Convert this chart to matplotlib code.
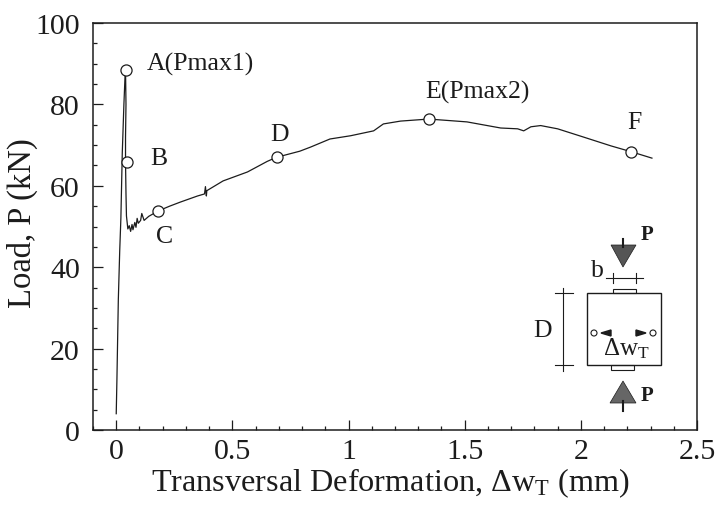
import matplotlib
matplotlib.use('Agg')
import matplotlib.pyplot as plt
from matplotlib.patches import Polygon, Rectangle, Circle
from matplotlib.ticker import MultipleLocator

plt.rcParams['font.family'] = ['Liberation Serif', 'DejaVu Serif']
plt.rcParams['mathtext.fontset'] = 'custom'
plt.rcParams['mathtext.rm'] = 'Liberation Serif'
plt.rcParams['mathtext.default'] = 'rm'

INK = '#1c1c1c'

# load curve
deform = [0.0, 0.003, 0.009, 0.015, 0.02, 0.026, 0.033, 0.038, 0.04, 0.042, 0.04, 0.04, 0.042, 0.044, 0.05, 0.056,
          0.062, 0.068, 0.072, 0.08, 0.085, 0.09, 0.095, 0.105, 0.11, 0.12, 0.14, 0.18, 0.23, 0.276, 0.35,
          0.38, 0.384, 0.388, 0.39, 0.46, 0.565, 0.65, 0.69, 0.79, 0.836, 0.92, 1.009, 1.108, 1.15,
          1.224, 1.345, 1.44, 1.51, 1.655, 1.728, 1.754, 1.785, 1.827, 1.9, 2.01, 2.13, 2.215, 2.306]
load = [4, 12.5, 32, 44, 52, 68, 80, 87, 88.5, 80, 72, 65.8, 58, 52.6, 49.4, 50.2,
        48.8, 50.5, 49.2, 51, 49.8, 52, 50.8, 51.5, 53.2, 51.5, 52.5, 53.8, 55, 56, 57.5,
        58, 59.8, 57.5, 58.8, 61.2, 63.4, 66, 67, 68.5, 69.5, 71.5, 72.3, 73.5, 75.2,
        75.9, 76.4, 76, 75.7, 74.2, 74, 73.5, 74.5, 74.8, 74, 72, 69.8, 68.4, 66.8]

# labelled points A-F
point_x = [0.04, 0.046, 0.18, 0.69, 1.345, 2.215]
point_y = [88.5, 65.8, 53.8, 67, 76.4, 68.4]
point_names = ['A(Pmax1)', 'B', 'C', 'D', 'E(Pmax2)', 'F']
name_x = [0.13, 0.145, 0.17, 0.665, 1.33, 2.2]
name_y = [90, 66.8, 47.6, 72.8, 83.3, 75.7]

fig = plt.figure(figsize=(7.2, 5.06), dpi=100)
ax = fig.add_axes([93 / 720, 1 - 431 / 506, 604 / 720, 407 / 506])

ax.plot(deform, load, color=INK, linewidth=0.9, solid_joinstyle='round')
ax.plot(point_x, point_y, 'o', markersize=8, markerfacecolor='white',
        markeredgecolor=INK, markeredgewidth=0.9)
for nm, nx, ny in zip(point_names, name_x, name_y):
    ax.text(nx, ny, nm, fontsize=18.5, color=INK, ha='left', va='center')

ax.set_xlim(-0.1, 2.5)
ax.set_ylim(0, 100)
ax.xaxis.set_minor_locator(MultipleLocator(0.1))
ax.yaxis.set_major_locator(MultipleLocator(20))
ax.yaxis.set_minor_locator(MultipleLocator(5))
ax.set_xticks([0, 0.5, 1, 1.5, 2, 2.5])
ax.set_xticklabels(['0', '0.5', '1', '1.5', '2', '2.5'])
ax.tick_params(which='major', direction='in', length=7.2, width=0.9, color=INK,
               labelsize=21.5, labelcolor=INK)
ax.tick_params(axis='x', which='major', pad=6)
ax.tick_params(axis='y', which='major', pad=9.5)
ax.tick_params(which='minor', direction='in', length=3.2, width=0.9, color=INK)
for s in ax.spines.values():
    s.set_linewidth(1.1)
    s.set_color(INK)

fig.text(22 / 720, 1 - 223 / 506, 'Load, P (kN)', rotation=90, fontsize=23.5, color=INK,
         ha='center', va='center')
fig.text(390 / 720, 1 - 483 / 506, r'Transversal Deformation, $\Delta$w$_{\mathrm{T}}$ (mm)',
         fontsize=23.2, color=INK, ha='center', va='center')

# specimen sketch, drawn in picture pixels on a transparent overlay
sk = fig.add_axes([0, 0, 1, 1], facecolor='none')
sk.set_xlim(0, 720)
sk.set_ylim(506, 0)
sk.axis('off')
sk.add_patch(Rectangle((587, 294), 74, 72, fill=False, edgecolor=INK, linewidth=1.0))
sk.add_patch(Rectangle((613, 290), 23, 4, fill=False, edgecolor=INK, linewidth=0.8))
sk.add_patch(Rectangle((611, 366), 23, 5, fill=False, edgecolor=INK, linewidth=0.8))
sk.plot([563, 563], [289, 372], color=INK, linewidth=0.8)
sk.plot([555, 573], [294, 294], color=INK, linewidth=0.8)
sk.plot([555, 573], [366, 366], color=INK, linewidth=0.8)
sk.plot([606, 643], [279, 279], color=INK, linewidth=0.8)
sk.plot([613, 613], [274, 284], color=INK, linewidth=0.8)
sk.plot([636, 636], [274, 284], color=INK, linewidth=0.8)
sk.plot([623, 623], [240, 248], color=INK, linewidth=1.5)
sk.add_patch(Polygon([(611, 246), (636, 246), (623, 268)], closed=True, facecolor='#555555',
                     edgecolor=INK, linewidth=0.5))
sk.plot([623, 623], [402, 412], color=INK, linewidth=1.5)
sk.add_patch(Polygon([(623, 382), (610, 404), (636, 404)], closed=True, facecolor='#666666',
                     edgecolor=INK, linewidth=0.5))
sk.add_patch(Circle((594, 334), 3, fill=False, edgecolor=INK, linewidth=0.8))
sk.add_patch(Circle((653, 334), 3, fill=False, edgecolor=INK, linewidth=0.8))
sk.add_patch(Polygon([(601, 334), (611, 331), (611, 337)], closed=True, facecolor=INK, edgecolor=INK))
sk.add_patch(Polygon([(646, 334), (636, 331), (636, 337)], closed=True, facecolor=INK, edgecolor=INK))
sk.text(543, 331, 'D', fontsize=18.5, color=INK, ha='center', va='center')
sk.text(597, 271, 'b', fontsize=18.5, color=INK, ha='center', va='center')
sk.text(647, 235, 'P', fontsize=15, color=INK, fontweight='bold', ha='center', va='center')
sk.text(647, 396, 'P', fontsize=15, color=INK, fontweight='bold', ha='center', va='center')
sk.text(626, 349, r'$\Delta$w$_{\mathrm{T}}$', fontsize=18, color=INK, ha='center', va='center')

fig.savefig('out.png', dpi=100)
